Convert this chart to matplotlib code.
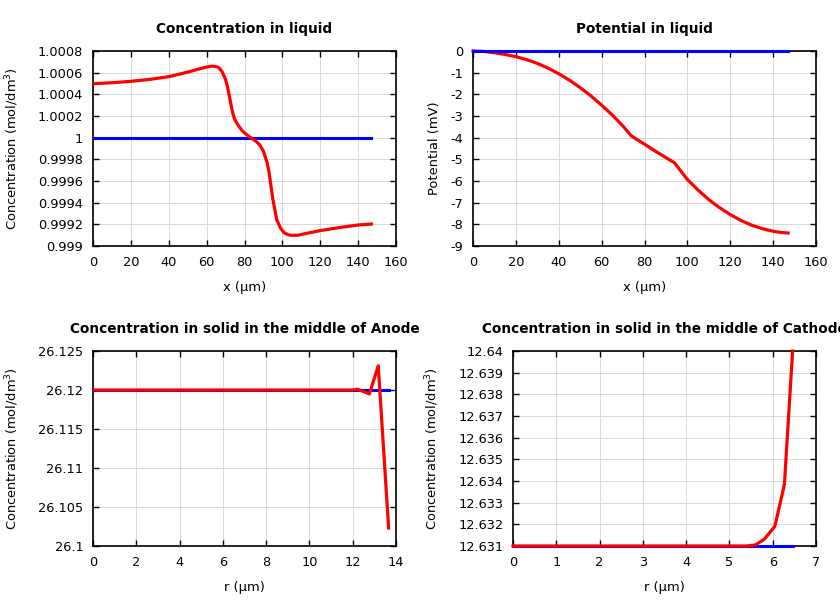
import matplotlib
matplotlib.use('Agg')
import matplotlib.pyplot as plt
from matplotlib.ticker import FuncFormatter, MultipleLocator

# ---- data ----
x_liq = [0, 10, 20, 30, 40, 45, 50, 55, 60, 63, 66, 68, 70, 71, 72, 73, 74, 75, 77, 79,
         81, 84, 86, 88, 90, 92, 93, 94, 95, 96, 97, 99, 101, 104, 108, 112, 120, 130, 140, 147]
c_liq = [1.000498, 1.000507, 1.00052, 1.000538, 1.000563, 1.000584, 1.000605, 1.00063,
         1.000652, 1.000661, 1.000652, 1.000615, 1.000538, 1.00047, 1.000384, 1.000291,
         1.000214, 1.000162, 1.000106, 1.00006, 1.000029, 0.999992, 0.999968, 0.999934,
         0.999875, 0.999767, 0.999675, 0.999552, 0.999428, 0.999336, 0.999243, 0.999166,
         0.99912, 0.999099, 0.999099, 0.999114, 0.999142, 0.99917, 0.999194, 0.999203]
c_liq_init = [1.0, 1.0]
x_liq_init = [0, 147]

x_pot = [0, 5, 10, 15, 20, 25, 30, 35, 40, 45, 50, 55, 60, 65, 70, 74, 80, 85, 90, 94,
         97, 100, 105, 110, 115, 120, 125, 130, 135, 140, 144, 147]
phi_liq = [0, -0.02, -0.08, -0.16, -0.26, -0.4, -0.57, -0.79, -1.05, -1.35, -1.69, -2.07,
           -2.5, -2.96, -3.47, -3.93, -4.3, -4.62, -4.92, -5.16, -5.55, -5.93, -6.42,
           -6.86, -7.23, -7.55, -7.82, -8.04, -8.2, -8.32, -8.38, -8.4]
phi_init = [0, 0]

r_an = [0, 4, 8, 12.0, 12.23, 12.77, 13.18, 13.66]
c_an = [26.12, 26.12, 26.12, 26.12, 26.1201, 26.1195, 26.1231, 26.1023]
r_an_init = [0, 13.66]
c_an_init = [26.12, 26.12]

r_ca = [0, 3, 5.4, 5.6, 5.81, 6.05, 6.27, 6.46]
c_ca = [12.631, 12.631, 12.631, 12.63105, 12.63132, 12.63191, 12.63384, 12.64]
r_ca_init = [0, 6.48]
c_ca_init = [12.631, 12.631]

plt.rcParams['font.family'] = 'DejaVu Sans'
plt.rcParams['font.size'] = 9

fig = plt.figure(figsize=(8.4, 6), dpi=100)

def fmt(v, pos):
    s = f"{round(v, 6):g}"
    return '0' if s == '-0' else s

def style(ax, title, xlabel, ylabel, ypad):
    ax.set_title(title, fontweight='bold', fontsize=9.8, pad=13)
    ax.set_xlabel(xlabel, labelpad=9, fontsize=9.4)
    ax.set_ylabel(ylabel, labelpad=ypad, fontsize=9.4)
    ax.grid(True, color='#d8d8d8', linewidth=0.7)
    ax.set_axisbelow(True)
    ax.tick_params(direction='in', top=True, right=True, length=4, width=1, pad=7,
                   labelsize=9.3)
    ax.yaxis.set_major_formatter(FuncFormatter(fmt))
    ax.xaxis.set_major_formatter(FuncFormatter(fmt))
    for s in ax.spines.values():
        s.set_linewidth(1.2)
        s.set_zorder(1)

conc_label = 'Concentration (mol/dm$^3$)'

# Concentration in liquid
ax1 = fig.add_axes([93/840, 354/600, 303/840, 195/600])
ax1.plot(x_liq_init, c_liq_init, color='#0000ff', lw=2.2)
ax1.plot(x_liq, c_liq, color='#ff0000', lw=2.3)
ax1.set_xlim(0, 160)
ax1.set_ylim(0.999, 1.0008)
ax1.yaxis.set_major_locator(MultipleLocator(0.0002))
ax1.xaxis.set_major_locator(MultipleLocator(20))
style(ax1, 'Concentration in liquid', 'x (µm)', conc_label, 12)

# Potential in liquid
ax2 = fig.add_axes([473/840, 354/600, 343/840, 195/600])
ax2.plot(x_pot, phi_liq, color='#ff0000', lw=2.3, clip_on=False)
ax2.plot(x_liq_init, phi_init, color='#0000ff', lw=2.2, clip_on=False)
ax2.set_xlim(0, 160)
ax2.set_ylim(-9, 0)
ax2.yaxis.set_major_locator(MultipleLocator(1))
ax2.xaxis.set_major_locator(MultipleLocator(20))
style(ax2, 'Potential in liquid', 'x (µm)', 'Potential (mV)', 7)

# Concentration in solid, anode
ax3 = fig.add_axes([93/840, 54/600, 303/840, 195/600])
ax3.plot(r_an_init, c_an_init, color='#0000ff', lw=2.2)
ax3.plot(r_an, c_an, color='#ff0000', lw=2.3)
ax3.set_xlim(0, 14)
ax3.set_ylim(26.1, 26.125)
ax3.yaxis.set_major_locator(MultipleLocator(0.005))
ax3.xaxis.set_major_locator(MultipleLocator(2))
style(ax3, 'Concentration in solid in the middle of Anode', 'r (µm)', conc_label, 12)

# Concentration in solid, cathode
ax4 = fig.add_axes([513/840, 54/600, 303/840, 195/600])
ax4.plot(r_ca_init, c_ca_init, color='#0000ff', lw=2.2, clip_on=False)
ax4.plot(r_ca, c_ca, color='#ff0000', lw=2.3, clip_on=False)
ax4.set_xlim(0, 7)
ax4.set_ylim(12.631, 12.64)
ax4.yaxis.set_major_locator(MultipleLocator(0.001))
ax4.xaxis.set_major_locator(MultipleLocator(1))
style(ax4, 'Concentration in solid in the middle of Cathode', 'r (µm)', conc_label, 12)

fig.savefig('out.png', dpi=100)
